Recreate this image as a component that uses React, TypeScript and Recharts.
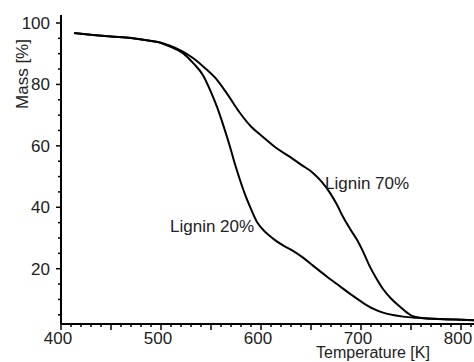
import React from 'react';
import { LineChart, Line, XAxis, YAxis, ReferenceDot } from 'recharts';

// Lignin 20% (steeper drop)
const l20Temp = [413, 432, 450, 470, 489, 500, 509, 522, 532, 542, 550, 556, 562, 569, 574, 579, 584, 589, 596, 602, 612, 622, 632, 642, 652, 666, 676, 690, 702, 712, 722, 732, 742, 756, 780, 813];
const l20Mass = [96.7, 96.1, 95.6, 95.1, 94.2, 93.5, 92.3, 90.2, 87.0, 83.0, 77.5, 72.7, 67.0, 59.7, 54.0, 48.9, 44.2, 40.2, 35.2, 32.7, 29.8, 27.6, 25.8, 23.6, 21.0, 17.4, 15.0, 11.6, 8.9, 7.0, 5.7, 4.9, 4.4, 4.0, 3.6, 3.2];

// Lignin 70%
const l70Temp = [413, 432, 450, 470, 489, 500, 509, 520, 532, 545, 556, 567, 579, 590, 602, 615, 629, 640, 652, 661, 669, 676, 682, 689, 696, 701, 709, 716, 722, 730, 739, 746, 752, 765, 790, 813];
const l70Mass = [96.7, 96.1, 95.6, 95.1, 94.2, 93.6, 92.6, 91.0, 88.6, 85.0, 81.5, 76.5, 70.7, 66.3, 62.9, 59.4, 56.4, 53.9, 51.2, 48.2, 44.7, 40.8, 36.9, 33.0, 29.4, 26.3, 20.6, 16.5, 13.4, 10.3, 7.6, 5.7, 4.5, 3.8, 3.5, 3.2];

const xTicks = Array.from({ length: 42 }, (_, i) => 400 + i * 10);
const yTicks = Array.from({ length: 20 }, (_, i) => 5 + i * 5);
const xLabels = [400, 500, 600, 700, 800];
const yLabels = [20, 40, 60, 80, 100];

const FONT = 'Liberation Sans, Arial, sans-serif';
const TEXT = '#222';

const l20 = l20Temp.map((t, i) => ({ t, m: l20Mass[i] }));
const l70 = l70Temp.map((t, i) => ({ t, m: l70Mass[i] }));

const XTick = (props: any) => {
  const { x, y, payload } = props;
  const v = payload.value;
  const len = v % 50 === 0 ? 6 : 3;
  return (
    <g>
      <line x1={x} x2={x} y1={y} y2={y + len} stroke="#000" strokeWidth={1.5} />
      {xLabels.includes(v) && (
        <text x={x - 3} y={y + 20} textAnchor="middle" fontSize={17} fontFamily={FONT} fill={TEXT}>
          {v}
        </text>
      )}
    </g>
  );
};

const YTick = (props: any) => {
  const { x, y, payload } = props;
  const v = payload.value;
  const len = v % 20 === 0 ? 5 : 3;
  return (
    <g>
      <line x1={x} x2={x - len} y1={y} y2={y} stroke="#000" strokeWidth={1.5} />
      {yLabels.includes(v) && (
        <text x={x - 11} y={y + 6} textAnchor="end" fontSize={17} fontFamily={FONT} fill={TEXT}>
          {v}
        </text>
      )}
    </g>
  );
};

const curveLabel = (text: string) => (props: any) => {
  const { viewBox } = props;
  return (
    <text x={viewBox.x} y={viewBox.y} fontSize={17} fontFamily={FONT} fill={TEXT}>
      {text}
    </text>
  );
};

export default function App() {
  return (
    <div style={{ position: 'absolute', left: 0, top: 0, width: 474, height: 362, background: '#fff' }}>
      <LineChart width={474} height={362} margin={{ top: 15, right: 0, left: 0, bottom: 0 }}>
        <XAxis
          type="number"
          dataKey="t"
          domain={[400, 813]}
          ticks={xTicks}
          interval={0}
          allowDataOverflow
          height={38}
          tickSize={0}
          tickMargin={0}
          tickLine={false}
          axisLine={{ stroke: '#000', strokeWidth: 2 }}
          tick={<XTick />}
          label={{
            content: (p: any) => (
              <text x={p.viewBox.x + 312} y={p.viewBox.y + 34} textAnchor="middle" fontSize={16} fontFamily={FONT} fill={TEXT}>
                Temperature [K]
              </text>
            ),
          }}
        />
        <YAxis
          type="number"
          dataKey="m"
          domain={[2, 102.6]}
          ticks={yTicks}
          interval={0}
          allowDataOverflow
          width={61}
          tickSize={0}
          tickMargin={0}
          tickLine={false}
          axisLine={{ stroke: '#000', strokeWidth: 2 }}
          tick={<YTick />}
          label={{
            content: () => (
              <text transform="translate(28,74) rotate(-90)" textAnchor="middle" fontSize={17} fontFamily={FONT} fill={TEXT}>
                Mass [%]
              </text>
            ),
          }}
        />
        <Line data={l20} dataKey="m" type="monotone" stroke="#000" strokeWidth={2} dot={false} isAnimationActive={false} />
        <Line data={l70} dataKey="m" type="monotone" stroke="#000" strokeWidth={2} dot={false} isAnimationActive={false} />
        <ReferenceDot x={509} y={32} r={0} ifOverflow="visible" label={curveLabel('Lignin 20%')} />
        <ReferenceDot x={664} y={46} r={0} ifOverflow="visible" label={curveLabel('Lignin 70%')} />
      </LineChart>
    </div>
  );
}
